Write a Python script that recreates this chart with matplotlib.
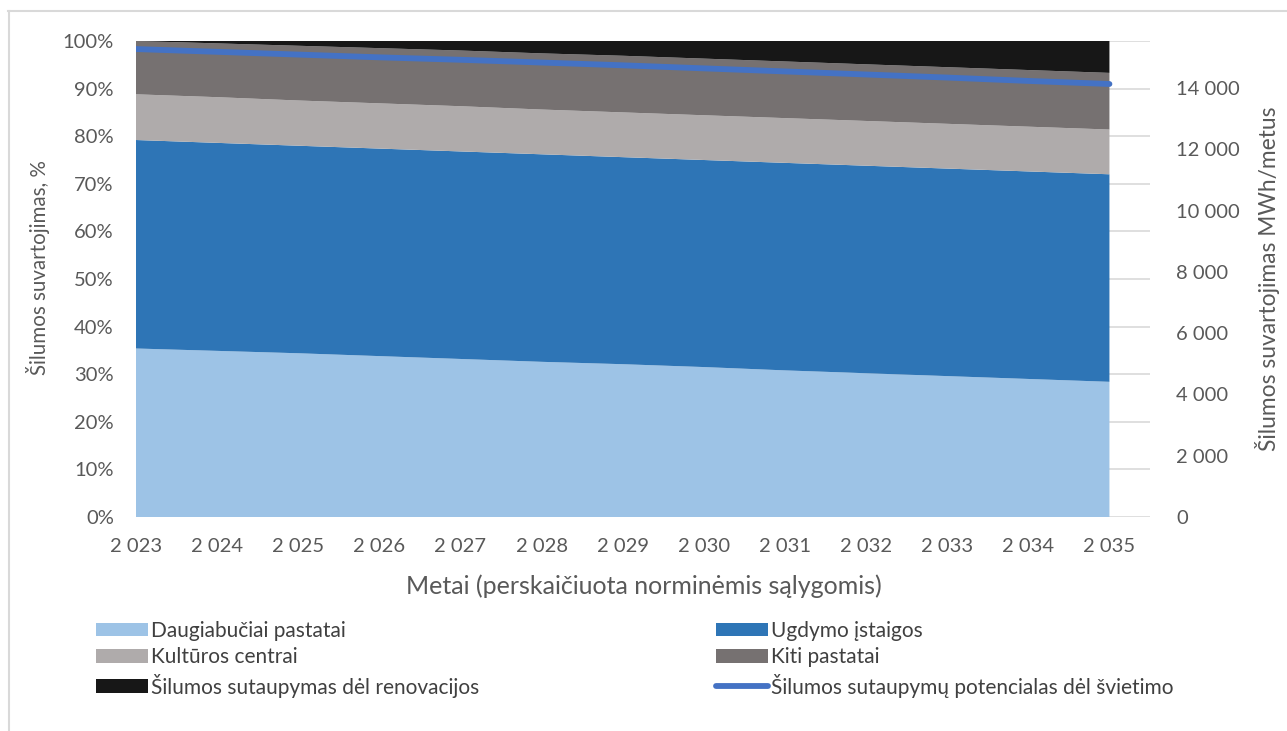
import matplotlib
matplotlib.use("Agg")
import matplotlib.pyplot as plt
from matplotlib.patches import Patch
from matplotlib.lines import Line2D
import numpy as np

plt.rcParams['font.family'] = ['Lato', 'DejaVu Sans']

years = ["2 023", "2 024", "2 025", "2 026", "2 027", "2 028", "2 029",
         "2 030", "2 031", "2 032", "2 033", "2 034", "2 035"]

# shares, %
daugiabuciai = [35.4, 34.9, 34.4, 33.8, 33.2, 32.6, 32.1, 31.5, 30.8, 30.2, 29.6, 29.0, 28.4]
ugdymo = [43.8, 43.7, 43.6, 43.6, 43.6, 43.6, 43.5, 43.5, 43.6, 43.6, 43.6, 43.6, 43.6]
kulturos = [9.6, 9.6, 9.5, 9.5, 9.5, 9.4, 9.4, 9.4, 9.4, 9.4, 9.4, 9.4, 9.4]
kiti = [11.2, 11.3, 11.5, 11.6, 11.7, 11.8, 11.9, 11.9, 11.9, 11.9, 11.9, 11.9, 11.9]
renovacija = [0.0, 0.5, 1.0, 1.5, 2.0, 2.6, 3.1, 3.7, 4.3, 4.9, 5.5, 6.1, 6.7]

# MWh/metus (right axis)
potencialas = [15270, 15180, 15090, 15000, 14920, 14830, 14740,
               14640, 14540, 14440, 14340, 14230, 14130]

labels = ["Daugiabučiai pastatai", "Ugdymo įstaigos", "Kultūros centrai",
          "Kiti pastatai", "Šilumos sutaupymas dėl renovacijos",
          "Šilumos sutaupymų potencialas dėl švietimo"]
colors = ["#9DC3E6", "#2E75B6", "#AFABAB", "#767171", "#171717"]
line_color = "#4472C4"
text_color = "#595959"
grid_color = "#D9D9D9"

W, H = 1287, 731
fig = plt.figure(figsize=(W / 100, H / 100), dpi=100)

# chart border (top and left)
fig.add_artist(Line2D([8 / W, 1.0], [1 - 11 / H, 1 - 11 / H], transform=fig.transFigure,
                      color="#D9D9D9", lw=1.5))
fig.add_artist(Line2D([9 / W, 9 / W], [0, 1 - 11 / H], transform=fig.transFigure,
                      color="#D9D9D9", lw=1.5))

left, right, top, bottom = 136, 1150, 41, 517
ax = fig.add_axes([left / W, 1 - bottom / H, (right - left) / W, (bottom - top) / H])

x = np.arange(len(years))
series = [daugiabuciai, ugdymo, kulturos, kiti, renovacija]
ax.stackplot(x, *series, colors=colors, linewidth=0, zorder=2)

ax.set_xlim(0, len(years) - 0.5)
ax.set_ylim(0, 100)
ax.set_yticks(np.arange(0, 101, 10))
ax.set_yticklabels([f"{v}%" for v in range(0, 101, 10)])
ax.set_xticks(x)
ax.set_xticklabels(years)
ax.grid(axis='y', color=grid_color, lw=1.2, zorder=0)
ax.set_axisbelow(True)
for s in ax.spines.values():
    s.set_visible(False)
ax.tick_params(axis='both', length=0, colors=text_color, labelsize=14.5)
ax.tick_params(axis='y', pad=16)
ax.tick_params(axis='x', pad=15)

ax2 = ax.twinx()
ax2.plot(x, potencialas, color=line_color, lw=4.2, solid_capstyle='round', zorder=5)
ax2.set_ylim(0, 15533)
ax2.set_yticks(np.arange(0, 14001, 2000))
ax2.set_yticklabels(["0" if v == 0 else f"{v // 1000} {v % 1000:03d}" for v in range(0, 14001, 2000)])
for s in ax2.spines.values():
    s.set_visible(False)
ax2.tick_params(axis='y', length=0, colors=text_color, labelsize=14.5, pad=19)

# axis titles
fig.text(38 / W, 1 - 268 / H, "Šilumos suvartojimas, %", rotation=90, ha='center', va='center',
         color=text_color, fontsize=14.8)
fig.text(1267 / W, 1 - 279 / H, "Šilumos suvartojimas MWh/metus", rotation=90, ha='center',
         va='center', color=text_color, fontsize=16.4)
fig.text(644 / W, 1 - 586 / H, "Metai (perskaičiuota norminėmis sąlygomis)", ha='center',
         va='center', color=text_color, fontsize=18)

# legend in two columns
h = [Patch(facecolor=c, edgecolor='none') for c in colors]
hl = Line2D([], [], color=line_color, lw=4.2, solid_capstyle='round')
leg_kw = dict(frameon=False, fontsize=15, handlelength=2.5, handleheight=0.62,
              handletextpad=0.12, labelspacing=0.3, borderpad=0, borderaxespad=0,
              labelcolor="#404040")
leg1 = fig.legend([h[0], h[2], h[4]], [labels[0], labels[2], labels[4]],
                  loc='upper left', bbox_to_anchor=(96 / W, 1 - 621 / H), **leg_kw)
leg2 = fig.legend([h[1], h[3], hl], [labels[1], labels[3], labels[5]],
                  loc='upper left', bbox_to_anchor=(716 / W, 1 - 621 / H), **leg_kw)

fig.savefig("out.png", dpi=100)
